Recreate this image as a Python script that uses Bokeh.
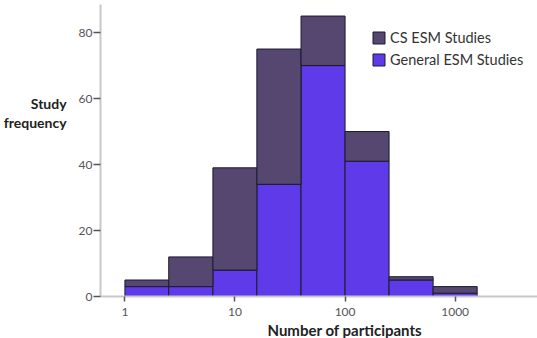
from bokeh.plotting import figure
from bokeh.models import Range1d, FixedTicker, Title, Legend, LegendItem, ColumnDataSource
from bokeh.embed import file_html
from bokeh.resources import INLINE

# Histogram bins (number of participants, log-spaced edges)
bin_edges = [1, 2.5, 6.3, 15.8, 39.8, 100, 251, 631, 1585]
general_esm = [3, 3, 8, 34, 70, 41, 5, 1]
cs_esm = [2, 9, 31, 41, 15, 9, 1, 2]
y_ticks = [0, 20, 40, 60, 80]
x_ticks = [1, 10, 100, 1000]

left = bin_edges[:-1]
right = bin_edges[1:]
totals = [g + c for g, c in zip(general_esm, cs_esm)]

FONT = "Lato"
DARK = "#554770"
BRIGHT = "#5f3ae8"
EDGE = "#1c1a30"

p = figure(width=537, height=338, x_axis_type="log",
           output_backend="svg", toolbar_location=None,
           x_range=Range1d(0.6, 5600), y_range=Range1d(0, 88.5),
           min_border_left=0, min_border_right=0,
           min_border_top=4, min_border_bottom=0)
p.outline_line_color = None
p.grid.grid_line_color = None
p.background_fill_color = "white"

src = ColumnDataSource(dict(left=left, right=right, gen=general_esm,
                            tot=totals, zero=[0] * len(left)))
r_gen = p.quad(left="left", right="right", bottom="zero", top="gen", source=src,
               fill_color=BRIGHT, line_color=EDGE, line_width=1)
r_cs = p.quad(left="left", right="right", bottom="gen", top="tot", source=src,
              fill_color=DARK, line_color=EDGE, line_width=1)

for ax in (p.xaxis[0], p.yaxis[0]):
    ax.axis_line_color = "#c8c8c8"
    ax.axis_line_width = 2
    ax.major_tick_line_color = "#555555"
    ax.major_tick_line_width = 1.5
    ax.major_tick_in = 0
    ax.minor_tick_line_color = None
    ax.major_label_text_font = FONT
    ax.major_label_text_font_size = "12px"
    ax.major_label_text_color = "#555555"
    ax.axis_label_text_font = FONT
    ax.axis_label_text_font_style = "bold"
    ax.axis_label_text_color = "#222222"

p.xaxis.ticker = FixedTicker(ticks=x_ticks)
p.xaxis.major_label_overrides = {1: "1", 10: "10", 100: "100", 1000: "1000"}
p.xaxis.major_tick_out = 5
p.xaxis.major_label_standoff = 6

# Horizontal y title; trailing blank lines lift it above the frame's middle
p.yaxis.ticker = FixedTicker(ticks=y_ticks)
p.yaxis.major_tick_out = 7
p.yaxis.major_label_standoff = 1
p.yaxis.axis_label = "Study\nfrequency\n\n\n\n"
p.yaxis.axis_label_orientation = "horizontal"
p.yaxis.axis_label_text_font_size = "14px"
p.yaxis.axis_label_text_line_height = 1.1
p.yaxis.axis_label_standoff = 9

p.add_layout(Title(text="Number of participants", align="left", offset=167,
                   text_font=FONT, text_font_style="bold", text_font_size="15px",
                   text_color="#222222", standoff=0), "below")

legend = Legend(items=[LegendItem(label="CS ESM Studies", renderers=[r_cs]),
                       LegendItem(label="General ESM Studies", renderers=[r_gen])],
                location=(271, 228), padding=0, margin=0, spacing=5,
                glyph_width=15, glyph_height=15, label_standoff=4,
                label_text_font=FONT, label_text_font_size="14.5px",
                label_text_color="#333333", label_height=15,
                background_fill_alpha=0, border_line_alpha=0)
p.add_layout(legend)

open("out.html", "w").write(file_html(p, INLINE))
